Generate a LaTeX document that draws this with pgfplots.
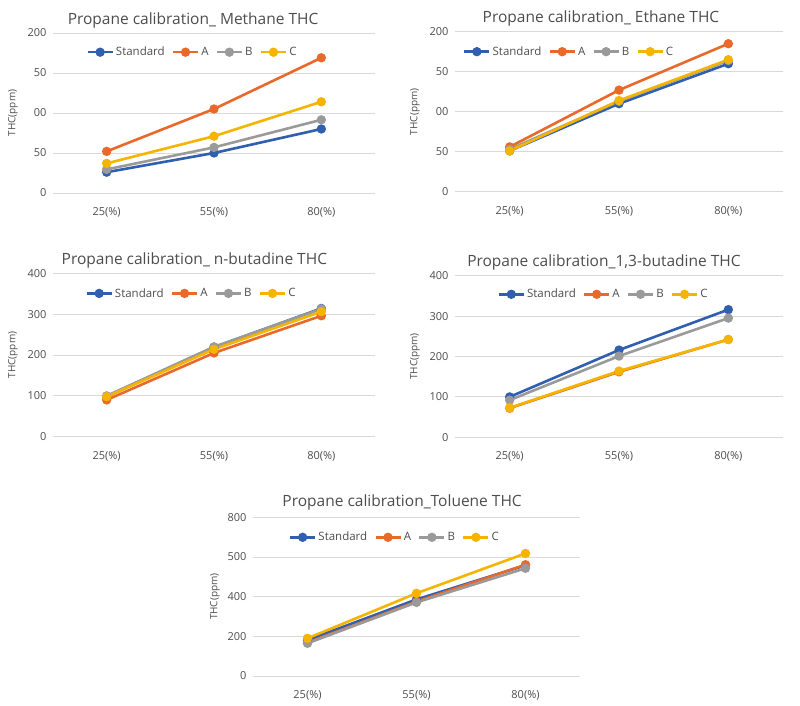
\documentclass[border=0pt]{standalone}
\usepackage{fontspec}
\setmainfont{Open Sans}
\usepackage{pgfplots}
\pgfplotsset{compat=1.18}

\definecolor{cStd}{HTML}{2F5FAE}
\definecolor{cA}{HTML}{E8692A}
\definecolor{cB}{HTML}{9A9A9A}
\definecolor{cC}{HTML}{F5B400}
\definecolor{txt}{HTML}{4D4D4D}
\definecolor{gridc}{HTML}{D9D9D9}

\pgfplotsset{
  panel/.style={
    scale only axis,
    xmin=-0.5, xmax=2.5, ymin=0,
    xtick={0,1,2}, xticklabels={25(\%),55(\%),80(\%)},
    axis line style={draw=none},
    major tick length=0pt,
    ymajorgrids, grid style={gridc, line width=0.9pt},
    /pgf/number format/assume math mode=true,
    tick label style={font=\fontsize{11}{13}\selectfont, text=txt},
    yticklabel style={xshift=-3pt},
    xticklabel style={yshift=-11pt},
    ylabel={THC(ppm)},
    ylabel style={font=\fontsize{10}{12}\selectfont, text=txt, anchor=center},
    title style={font=\fontsize{15.5}{18}\selectfont, text=txt, anchor=center},
    legend columns=4,
    legend style={draw=none, fill=none, font=\fontsize{11.5}{13}\selectfont, text=txt,
      anchor=center, inner sep=0pt,
      /tikz/every even column/.append style={column sep=5pt}},
    legend image code/.code={
      \draw[mark repeat=2, mark phase=2] plot coordinates {(0pt,0pt) (12.5pt,0pt) (25pt,0pt)};
    },
    every axis plot/.append style={line width=2.6pt, mark=*, mark size=3.3pt,
      mark options={solid}},
  },
}

\begin{document}
\begin{tikzpicture}
\path[use as bounding box] (0,0) rectangle (800pt,706pt);

% Methane
\begin{axis}[panel, at={(53pt,{706pt-193pt})}, anchor=south west,
  width=322pt, height=160pt, ymax=200,
  ytick={0,50,100,150,200}, yticklabels={0,50,00,50,200},
  title={Propane calibration\_ Methane THC},
  title style={at={(axis description cs:0.435,1)}, yshift=7pt},
  ylabel style={at={(axis description cs:-0.124,0.5)}},
  legend style={at={(axis description cs:0.433,0.88)}}]
\addplot[cStd] coordinates {(0,26) (1,50) (2,80)};
\addplot[cA] coordinates {(0,52) (1,105) (2,169)};
\addplot[cB] coordinates {(0,29.5) (1,57) (2,91.5)};
\addplot[cC] coordinates {(0,37) (1,71) (2,114)};
\legend{Standard,A,B,C}
\end{axis}

% Ethane
\begin{axis}[panel, at={(455pt,{706pt-191.7pt})}, anchor=south west,
  width=328pt, height=160pt, ymax=200,
  ytick={0,50,100,150,200}, yticklabels={0,50,00,50,200},
  title={Propane calibration\_ Ethane THC},
  title style={at={(axis description cs:0.445,1)}, yshift=7.5pt},
  ylabel style={at={(axis description cs:-0.122,0.5)}},
  legend style={at={(axis description cs:0.348,0.875)}}]
\addplot[cStd] coordinates {(0,51) (1,110) (2,160)};
\addplot[cA] coordinates {(0,56) (1,127) (2,185)};
\addplot[cB] coordinates {(0,53) (1,113) (2,164)};
\addplot[cC] coordinates {(0,51) (1,114) (2,165)};
\legend{Standard,A,B,C}
\end{axis}

% n-butadine
\begin{axis}[panel, at={(53pt,{706pt-436.7pt})}, anchor=south west,
  width=322pt, height=163.4pt, ymax=400,
  ytick={0,100,200,300,400},
  title={Propane calibration\_ n-butadine THC},
  title style={at={(axis description cs:0.439,1)}, yshift=7pt},
  ylabel style={at={(axis description cs:-0.124,0.5)}},
  legend style={at={(axis description cs:0.43,0.877)}}]
\addplot[cStd] coordinates {(0,98) (1,219) (2,314)};
\addplot[cA] coordinates {(0,90) (1,205) (2,296)};
\addplot[cB] coordinates {(0,100) (1,220) (2,313)};
\addplot[cC] coordinates {(0,98) (1,214) (2,306)};
\legend{Standard,A,B,C}
\end{axis}

% 1,3-butadine
\begin{axis}[panel, at={(455pt,{706pt-437.3pt})}, anchor=south west,
  width=328pt, height=161.6pt, ymax=400,
  ytick={0,100,200,300,400},
  title={Propane calibration\_1,3-butadine THC},
  title style={at={(axis description cs:0.454,1)}, yshift=7.5pt},
  ylabel style={at={(axis description cs:-0.122,0.5)}},
  legend style={at={(axis description cs:0.453,0.885)}}]
\addplot[cStd] coordinates {(0,100) (1,216) (2,316)};
\addplot[cA] coordinates {(0,72) (1,162) (2,242)};
\addplot[cB] coordinates {(0,92) (1,201) (2,295)};
\addplot[cC] coordinates {(0,73) (1,164) (2,242)};
\legend{Standard,A,B,C}
\end{axis}

% Toluene
\begin{axis}[panel, at={(253pt,{706pt-676pt})}, anchor=south west,
  width=327pt, height=158.7pt, ymax=800,
  ytick={0,200,400,600,800}, yticklabels={0,200,400,500,800},
  title={Propane calibration\_Toluene THC},
  title style={at={(axis description cs:0.456,1)}, yshift=9pt},
  ylabel style={at={(axis description cs:-0.116,0.5)}},
  legend style={at={(axis description cs:0.434,0.874)}}]
\addplot[cStd] coordinates {(0,181) (1,386) (2,558)};
\addplot[cA] coordinates {(0,168) (1,375) (2,561)};
\addplot[cB] coordinates {(0,165) (1,371) (2,543)};
\addplot[cC] coordinates {(0,190) (1,417) (2,618)};
\legend{Standard,A,B,C}
\end{axis}
\end{tikzpicture}
\end{document}
